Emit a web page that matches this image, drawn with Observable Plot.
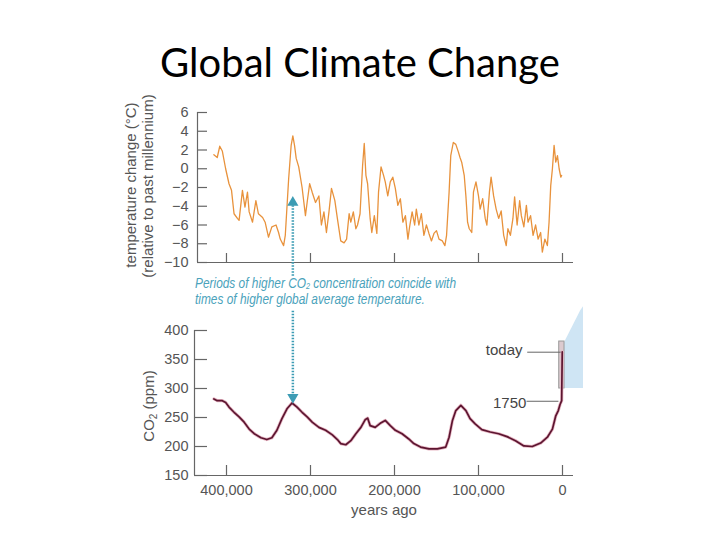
<!DOCTYPE html>
<html><head><meta charset="utf-8">
<script src="https://cdn.jsdelivr.net/npm/d3@7"></script>
<script src="https://cdn.jsdelivr.net/npm/@observablehq/plot@0.6"></script>
<style>
body{margin:0;background:#fff;}
#root{position:relative;width:720px;height:540px;overflow:hidden;background:#fff;font-family:"Liberation Sans",Arial,sans-serif;}
.abs{position:absolute;}
#title{left:0;width:720px;text-align:center;top:42px;font-family:Lato,"Open Sans",sans-serif;font-size:40px;line-height:40px;color:#000;white-space:nowrap;}
.ylab{position:absolute;white-space:nowrap;font-size:15px;line-height:15px;color:#555;transform:translate(-50%,-50%) rotate(-90deg);}
.ylab sub{font-size:10px;vertical-align:-3px;line-height:0;}
#note{left:195px;top:276px;font-family:"Liberation Sans",Arial,sans-serif;font-style:italic;font-size:14px;line-height:15px;color:#4aa2bb;white-space:nowrap;transform-origin:0 0;}
#note div{height:15.5px;overflow:visible;}
#note sub{font-size:8.5px;vertical-align:-1px;line-height:0;}
</style></head>
<body><div id="root">
<div id="title" class="abs">Global Climate Change</div>
<div id="top" class="abs" style="left:0;top:95px"></div>
<div id="bot" class="abs" style="left:0;top:300px"></div>
<div class="ylab" style="left:130px;top:185px">temperature change (°C)</div>
<div class="ylab" style="left:147px;top:186px">(relative to past millennium)</div>
<div class="ylab" style="left:148px;top:406px">CO<sub>2</sub> (ppm)</div>
<div id="note" class="abs"><div><span id="noteLine1">Periods of higher CO<sub>2</sub> concentration coincide with</span></div><div>times of higher global average temperature.</div></div>
</div>
<script>
// ---- data (thousands of years ago) ----
const tempYears = [415,411,408,405,401,397,394,391,387,385,381,378,375,373,369,365,362,357,354,350,346,341,338,336,332,330,326,323,321,319,317,314,310,306,304,301,298,294,290,287,284,281,278,275,271,268,264,260,257,254,252,249,246,244,241,238,236,234,232,229,227,224,221,219,216,213,211,208,205,202,199,196,193,190,187,184,182,179,176,174,171,168,165,162,159,156,153,150,147,143,140,138,135,133,130,127,124,122,120,117,115,113,111,108,106,103,100,98,95,92,90,87,85,82,79,76,73,70,67,65,62,59,57,54,51,49,46,43,41,38,35,32,29,26,24,21,18,16,14,12,10,8,6,4,2,1];
const tempValues = [1.5,1.2,2.4,1.9,0.0,-1.6,-2.3,-4.8,-5.3,-5.5,-2.3,-4.1,-2.5,-4.6,-5.7,-3.4,-4.8,-5.2,-5.7,-7.3,-6.2,-6.0,-6.8,-7.5,-8.2,-7.1,-1.1,2.5,3.5,2.5,1.1,0.2,-2.0,-5.0,-3.6,-1.6,-2.5,-3.6,-2.9,-6.0,-4.6,-6.8,-4.6,-2.1,-3.4,-5.3,-7.7,-7.9,-7.5,-4.8,-5.7,-4.6,-6.4,-6.0,-4.8,0.3,2.7,-0.7,-1.6,-5.3,-6.8,-5.0,-6.9,-2.5,0.2,-0.7,-1.4,-2.9,-1.4,-0.9,-2.1,-3.9,-3.2,-5.7,-5.0,-7.5,-6.2,-4.6,-6.0,-4.3,-6.0,-4.8,-7.1,-6.0,-6.9,-7.7,-6.9,-6.6,-7.5,-7.7,-8.2,-7.1,-2.5,1.4,2.8,2.6,1.8,1.2,0.7,-0.7,-2.9,-5.7,-6.4,-6.8,-2.5,-1.4,-2.9,-4.3,-3.2,-5.3,-6.0,-2.5,-0.9,-2.9,-4.3,-5.3,-4.5,-7.1,-8.2,-6.4,-7.1,-5.3,-3.0,-6.0,-3.4,-5.0,-6.2,-3.9,-5.7,-5.0,-7.1,-6.0,-7.5,-6.8,-8.9,-7.5,-8.2,-5.7,-1.8,0.0,2.5,0.7,1.4,0.0,-0.9,-0.7];

const co2Years = [415,411,405,401,397,391,385,379,373,367,359,352,346,340,334,328,322,316,310,304,298,290,282,274,268,264,258,252,246,240,235,232,229,223,217,211,205,199,191,183,177,169,159,149,139,135,131,127,121,115,110,104,96,86,76,66,56,46,36,26,18,12,8,5,3,1,0.3];
const co2Values = [282,279,279,276,268,259,251,242,230,222,215,212,215,228,248,265,275,268,259,251,242,233,228,220,212,205,203,210,222,233,246,249,236,233,240,245,236,228,222,213,205,199,196,196,199,216,245,262,271,262,248,239,229,225,222,217,210,201,200,206,216,230,253,262,272,279,363];

const xTicks = [400000,300000,200000,100000,0];
const tempTicks = [-10,-8,-6,-4,-2,0,2,4,6];
const co2Ticks = [150,200,250,300,350,400];

const markLabels = [{label:"today", at:47600, ppm:366.4, lineFrom:42000, lineTo:1200, lineAt:362.6},
                    {label:"1750",  at:43000, ppm:275.3, lineFrom:42800, lineTo:4800, lineAt:278}];
const todayBox = [{x1:3900, x2:-2400, y1:300, y2:381}];
const zoomWedge = [{x:-2400,y1:300,y2:379},{x:-21400,y1:300,y2:433},{x:-25000,y1:300,y2:441}];
const linkYear = 321000;

// ---- helpers ----
const minus = d => d < 0 ? "\u2212" + Math.abs(d) : String(d);
const teal = "#3d9cb4";
const axisGrey = "#666";
const pxPerYear = 0.84 / 1000;

const temp = tempYears.map((k,i)=>({x:k*1000, y:tempValues[i]}));
const co2 = co2Years.map((k,i)=>({x:k*1000, y:co2Values[i]}));

const style = {fontFamily:'"Liberation Sans", Arial, sans-serif', fontSize:"14.5px", color:"#555", background:"transparent", overflow:"visible"};

// ---- top panel ----
const TX0 = 434500, TX1 = -13100;
const topPlot = Plot.plot({
  width:720, height:185, marginLeft:197, marginRight:147, marginTop:17, marginBottom:18,
  x:{domain:[TX0,TX1], axis:null},
  y:{domain:[-10,6], axis:null},
  style,
  marks:[
    Plot.axisY(tempTicks, {anchor:"left", tickSize:0, tickPadding:9, tickFormat:minus, label:null}),
    Plot.ruleY(tempTicks, {y:d=>d, x1:TX0, x2:TX0 - 10/pxPerYear, stroke:axisGrey, strokeWidth:1.2}),
    Plot.ruleX(xTicks, {x:d=>d, y1:-10, y2:-10+9/9.375, stroke:axisGrey, strokeWidth:1.2}),
    Plot.ruleX([TX0], {stroke:axisGrey, strokeWidth:1.2}),
    Plot.ruleY([-10], {stroke:axisGrey, strokeWidth:1.2}),
    Plot.line(temp, {x:"x", y:"y", stroke:"#e8923c", strokeWidth:1.3, strokeLinejoin:"round"}),
    Plot.link([{x:linkYear}], {x1:"x", x2:"x", y1:()=>-3.9, y2:()=>-11.4, stroke:teal, strokeWidth:2.5, strokeDasharray:"1.4,1.6"}),
    Plot.dot([{x:linkYear}], {x:"x", y:()=>-3.6, symbol:"triangle", r:3.2, fill:teal, stroke:teal})
  ]
});
document.getElementById("top").append(topPlot);

// ---- bottom panel ----
const BX0 = 438100, BX1 = -13100;
const botPlot = Plot.plot({
  width:720, height:240, marginLeft:194, marginRight:147, marginTop:30, marginBottom:65,
  x:{domain:[BX0,BX1], axis:null},
  y:{domain:[150,400], axis:null},
  style,
  marks:[
    Plot.areaY(zoomWedge, {x:"x", y1:"y1", y2:"y2", fill:"#cfe5f4"}),
    Plot.rect(todayBox, {x1:"x1", x2:"x2", y1:"y1", y2:"y2", fill:"#dccacf", stroke:"#9a9a9a", strokeWidth:1}),
    Plot.axisY(co2Ticks, {anchor:"left", tickSize:0, tickPadding:6, label:null}),
    Plot.axisX(xTicks, {anchor:"bottom", tickSize:0, tickPadding:9, tickFormat:d3.format(","), label:null}),
    Plot.ruleY(co2Ticks, {y:d=>d, x1:BX0, x2:BX0 - 13/pxPerYear, stroke:axisGrey, strokeWidth:1.2}),
    Plot.ruleX(xTicks, {x:d=>d, y1:150, y2:150+10/0.58, stroke:axisGrey, strokeWidth:1.2}),
    Plot.ruleX([BX0], {stroke:axisGrey, strokeWidth:1.2}),
    Plot.ruleY([150], {stroke:axisGrey, strokeWidth:1.2}),
    Plot.text(["years ago"], {frameAnchor:"bottom", dy:39, fontSize:15, fill:"#555"}),
    Plot.link(markLabels, {x1:"lineFrom", x2:"lineTo", y1:"lineAt", y2:"lineAt", stroke:"#666", strokeWidth:1}),
    Plot.text(markLabels, {x:"at", y:"ppm", text:"label", textAnchor:"end", fontSize:15, fill:"#444"}),
    Plot.line(co2, {x:"x", y:"y", stroke:"#e7b7c4", strokeWidth:3.2, strokeLinejoin:"round"}),
    Plot.line(co2, {x:"x", y:"y", stroke:"#5c1530", strokeWidth:1.7, strokeLinejoin:"round"}),
    Plot.link([{x:linkYear}], {x1:"x", x2:"x", y1:()=>434, y2:()=>289, stroke:teal, strokeWidth:2.5, strokeDasharray:"1.4,1.6"}),
    Plot.dot([{x:linkYear}], {x:"x", y:()=>285, symbol:"triangle", rotate:180, r:3.2, fill:teal, stroke:teal})
  ]
});
document.getElementById("bot").append(botPlot);

// squeeze the note to the narrow width used in the reference
const note = document.getElementById("note");
const w1 = document.getElementById("noteLine1").getBoundingClientRect().width;
if (w1 > 0) note.style.transform = `scaleX(${(261 / w1).toFixed(3)})`;
</script>
</body></html>
